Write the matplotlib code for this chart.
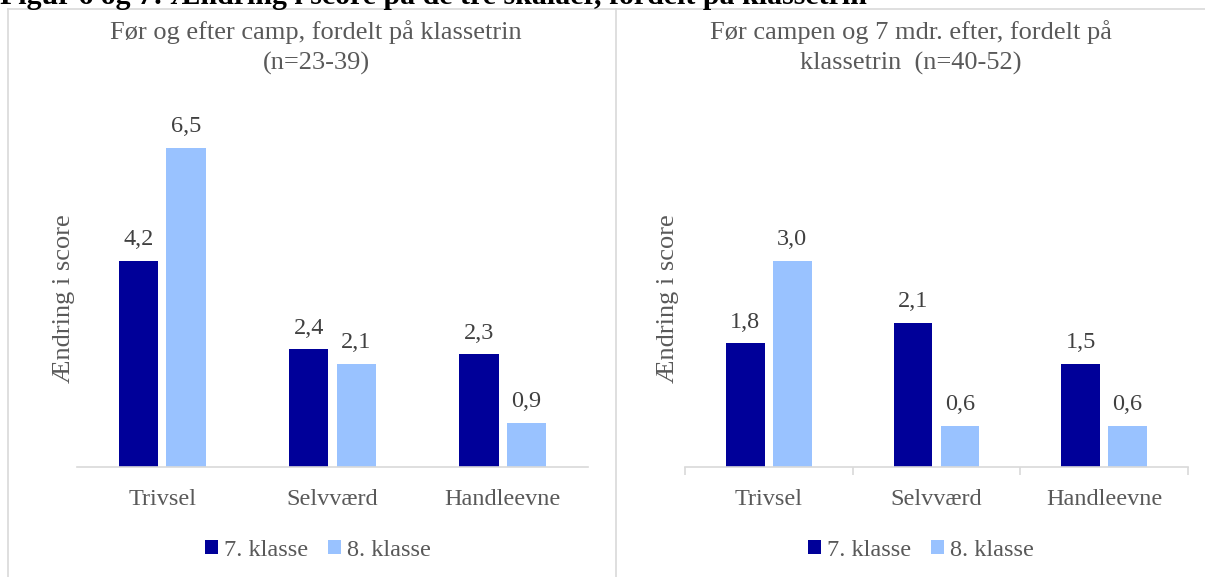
import matplotlib
matplotlib.use("Agg")
import matplotlib.pyplot as plt
from matplotlib.lines import Line2D
import numpy as np

plt.rcParams['font.family'] = ['Liberation Serif', 'DejaVu Serif']

# Data
categories = ["Trivsel", "Selvværd", "Handleevne"]
series_names = ["7. klasse", "8. klasse"]
left_7 = [4.2, 2.4, 2.3]
left_8 = [6.5, 2.1, 0.9]
right_7 = [1.8, 2.1, 1.5]
right_8 = [3.0, 0.6, 0.6]

fig_title = "Figur 6 og 7: Ændring i score på de tre skalaer, fordelt på klassetrin"
left_title = "Før og efter camp, fordelt på klassetrin\n(n=23-39)"
right_title = "Før campen og 7 mdr. efter, fordelt på\nklassetrin  (n=40-52)"
ylabel = "Ændring i score"

dark = "#000099"
light = "#99C2FF"
gray = "#595959"
border = "#d9d9d9"

W, H = 1205, 577
fig = plt.figure(figsize=(W / 100, H / 100), dpi=100)

# Frames of the two chart boxes
top = 1 - 9 / H
fig.add_artist(Line2D([8 / W, 8 / W], [0, top], color=border, lw=1.2))
fig.add_artist(Line2D([8 / W, 1], [top, top], color=border, lw=1.2))
fig.add_artist(Line2D([616 / W, 616 / W], [0, top], color=border, lw=1.2))

# Big figure title, cut off at the top like in the source
fig.text(0, 1 - 4 / H, fig_title, fontsize=21.5, fontweight="bold", color="black",
         ha="left", va="baseline")


def draw_panel(x0, x1, ymax, s7, s8, title, title_x, ylab_x, legend_x, ticks):
    ax = fig.add_axes([x0 / W, 110 / H, (x1 - x0) / W, 344 / H])
    x = np.arange(len(categories))
    w = 0.23
    off = 0.14
    b1 = ax.bar(x - off, s7, w, color=dark, label=series_names[0])
    b2 = ax.bar(x + off, s8, w, color=light, label=series_names[1])
    # value labels above the bars, with decimal comma
    for bars, vals in [(b1, s7), (b2, s8)]:
        for r, v in zip(bars, vals):
            ax.annotate(f"{v:.1f}".replace(".", ","),
                        (r.get_x() + r.get_width() / 2, r.get_height()),
                        xytext=(0, 7.5), textcoords="offset points",
                        ha="center", va="bottom", fontsize=17.5, color="#404040")
    ax.set_xlim(-0.5, 2.5)
    ax.set_ylim(0, ymax)
    ax.set_xticks(x)
    ax.set_xticklabels(categories, fontsize=17.5, color=gray)
    ax.tick_params(axis="x", length=0, pad=16)
    if ticks:
        ax.set_xticks([-0.5, 0.5, 1.5, 2.5], minor=True)
        ax.tick_params(axis="x", which="minor", length=5.5, color=border, width=1.2)
    ax.set_yticks([])
    for s in ["top", "right", "left"]:
        ax.spines[s].set_visible(False)
    ax.spines["bottom"].set_color(border)
    ax.spines["bottom"].set_linewidth(1.2)
    ax.set_ylabel(ylabel, fontsize=19, color=gray)
    ax.yaxis.set_label_coords(ylab_x, 0.49)
    fig.text(title_x / W, 1 - 47.5 / H, title, fontsize=19, color=gray,
             ha="center", va="center", linespacing=1.42)
    fig.legend(handles=[b1, b2], loc="center", bbox_to_anchor=(legend_x / W, 1 - 550 / H),
               ncol=2, frameon=False, fontsize=17.5, labelcolor=gray,
               handlelength=0.55, handleheight=0.55, handletextpad=0.25, columnspacing=0.8)
    return ax


draw_panel(77, 588, 7.0, left_7, left_8, left_title, 316, -0.004, 318, False)
draw_panel(685, 1188, 5.0, right_7, right_8, right_title, 911, -0.011, 921, True)

fig.savefig("out.png", dpi=100)
